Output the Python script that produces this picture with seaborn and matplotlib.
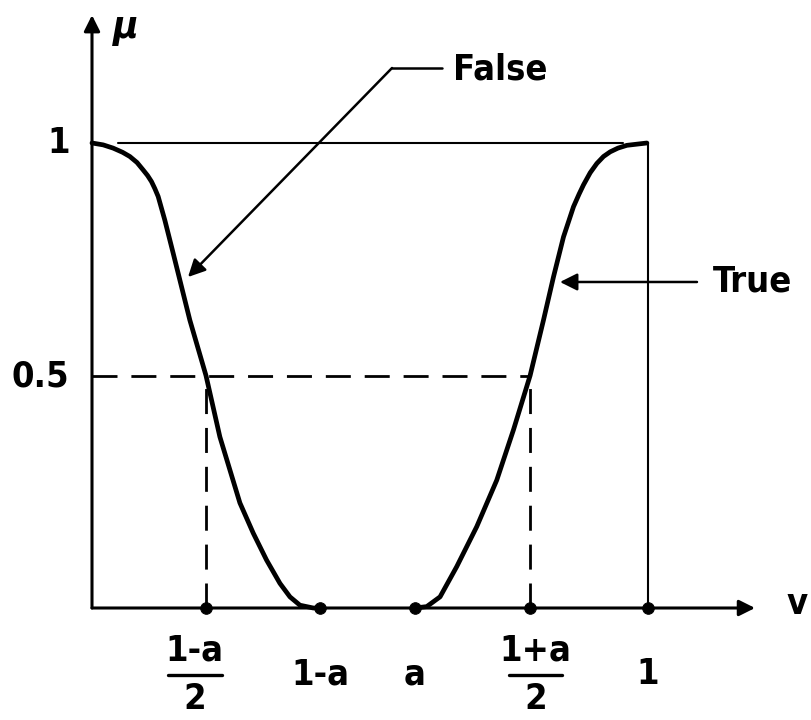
import matplotlib
matplotlib.use("Agg")
import matplotlib.pyplot as plt
import seaborn as sns
import pandas as pd

# Membership curves of the linguistic truth values (v: truth value, mu: grade)
false_v = [0.0, 0.020, 0.038, 0.055, 0.068, 0.081, 0.092, 0.100, 0.107, 0.113,
           0.119, 0.131, 0.146, 0.176, 0.205, 0.230, 0.248, 0.266, 0.290,
           0.314, 0.338, 0.356, 0.374, 0.398, 0.410]
false_mu = [1.0, 0.996, 0.989, 0.980, 0.971, 0.958, 0.942, 0.930, 0.917, 0.902,
            0.885, 0.834, 0.763, 0.619, 0.500, 0.368, 0.297, 0.226, 0.161,
            0.103, 0.053, 0.024, 0.006, 0.0, 0.0]

true_v = [0.581, 0.602, 0.626, 0.656, 0.692, 0.728, 0.758, 0.788, 0.812,
          0.830, 0.848, 0.866, 0.876, 0.884, 0.896, 0.908, 0.920, 0.932,
          0.946, 0.962, 0.998]
true_mu = [0.0, 0.003, 0.024, 0.089, 0.175, 0.275, 0.383, 0.500, 0.619,
           0.712, 0.798, 0.863, 0.890, 0.910, 0.936, 0.956, 0.971, 0.981,
           0.989, 0.995, 1.0]

# Marked points on the v axis and their labels (numerator, denominator)
tick_v = [0.205, 0.410, 0.581, 0.788, 1.0]
tick_labels = [("1-a", "2"), ("1-a", None), ("a", None), ("1+a", "2"), ("1", None)]
mu_ticks = [1.0, 0.5]
mu_labels = ["1", "0.5"]
half_cross = [0.205, 0.788]

sns.set_theme(style="white")
plt.rcParams["font.family"] = ["DejaVu Sans"]
plt.rcParams["font.stretch"] = "condensed"

fig = plt.figure(figsize=(8.12, 7.2), dpi=100)
ax = fig.add_axes([0, 0, 1, 1])
ax.set_xlim(-92 / 556, 720 / 556)
ax.set_ylim(-112 / 465, 608 / 465)
ax.axis("off")

ink = "black"
fs = 26
fw = "semibold"

df_false = pd.DataFrame({"v": false_v, "mu": false_mu})
df_true = pd.DataFrame({"v": true_v, "mu": true_mu})
for df in (df_false, df_true):
    sns.lineplot(data=df, x="v", y="mu", sort=False, estimator=None,
                 color=ink, lw=3.4, ax=ax, solid_joinstyle="round",
                 solid_capstyle="round")

# axes with arrow heads
arrow = dict(arrowstyle="-|>", color=ink, lw=2.2, mutation_scale=24,
             shrinkA=0, shrinkB=0)
ax.annotate("", xy=(1.1925, 0.0), xytext=(0.0, 0.0), arrowprops=arrow)
ax.annotate("", xy=(0.0, 1.275), xytext=(0.0, 0.0), arrowprops=arrow)
ax.text(0.061, 1.250, "\u03bc", fontsize=fs + 2, style="italic",
        fontweight="bold", ha="center", va="center", color=ink)
ax.text(1.268, 0.009, "v", fontsize=fs, fontweight=fw, ha="center",
        va="center", color=ink)

# reference lines at mu = 1 and v = 1
ax.plot([0.047, 0.955], [1.0, 1.0], color=ink, lw=1.5)
ax.plot([1.0, 1.0], [0.0, 1.0], color=ink, lw=1.5)

# crossover guides at mu = 0.5
dash = dict(color=ink, lw=2.0, dashes=(9, 5))
ax.plot([0.0, half_cross[1]], [0.5, 0.5], **dash)
for hv in half_cross:
    ax.plot([hv, hv], [0.0, 0.5], **dash)

# points on the v axis
sns.scatterplot(x=tick_v, y=[0.0] * len(tick_v), color=ink, s=70,
                edgecolor=ink, zorder=5, ax=ax)

# mu tick labels
ax.text(-0.06, mu_ticks[0], mu_labels[0], fontsize=fs, fontweight=fw,
        ha="center", va="center", color=ink)
ax.text(-0.093, mu_ticks[1] - 0.002, mu_labels[1], fontsize=fs, fontweight=fw,
        ha="center", va="center", color=ink)

# v tick labels, fractions drawn as numerator / bar / denominator
label_shift = [-0.02, 0.0, 0.0, 0.01, 0.0]
for v, (num, den), dx in zip(tick_v, tick_labels, label_shift):
    x = v + dx
    if den is None:
        ax.text(x, -0.142, num, fontsize=fs, fontweight=fw, ha="center",
                va="center", color=ink)
    else:
        ax.text(x, -0.092, num, fontsize=fs, fontweight=fw, ha="center",
                va="center", color=ink)
        ax.plot([x - 0.048, x + 0.048], [-0.144, -0.144], color=ink, lw=2.4)
        ax.text(x, -0.195, den, fontsize=fs, fontweight=fw, ha="center",
                va="center", color=ink)

# callouts
ax.plot([0.6295, 0.5396], [1.1613, 1.1613], color=ink, lw=1.8)
ax.annotate("", xy=(0.1727, 0.7118), xytext=(0.5396, 1.1613),
            arrowprops=dict(arrowstyle="-|>", color=ink, lw=1.8,
                            mutation_scale=26, shrinkA=0, shrinkB=0))
ax.text(0.649, 1.159, "False", fontsize=fs, fontweight=fw, ha="left",
        va="center", color=ink)

ax.annotate("", xy=(0.8417, 0.7011), xytext=(1.0881, 0.7011),
            arrowprops=dict(arrowstyle="-|>", color=ink, lw=1.8,
                            mutation_scale=26, shrinkA=0, shrinkB=0))
ax.text(1.1169, 0.7032, "True", fontsize=fs, fontweight=fw, ha="left",
        va="center", color=ink)

fig.savefig("out.png", dpi=100, facecolor="white")
